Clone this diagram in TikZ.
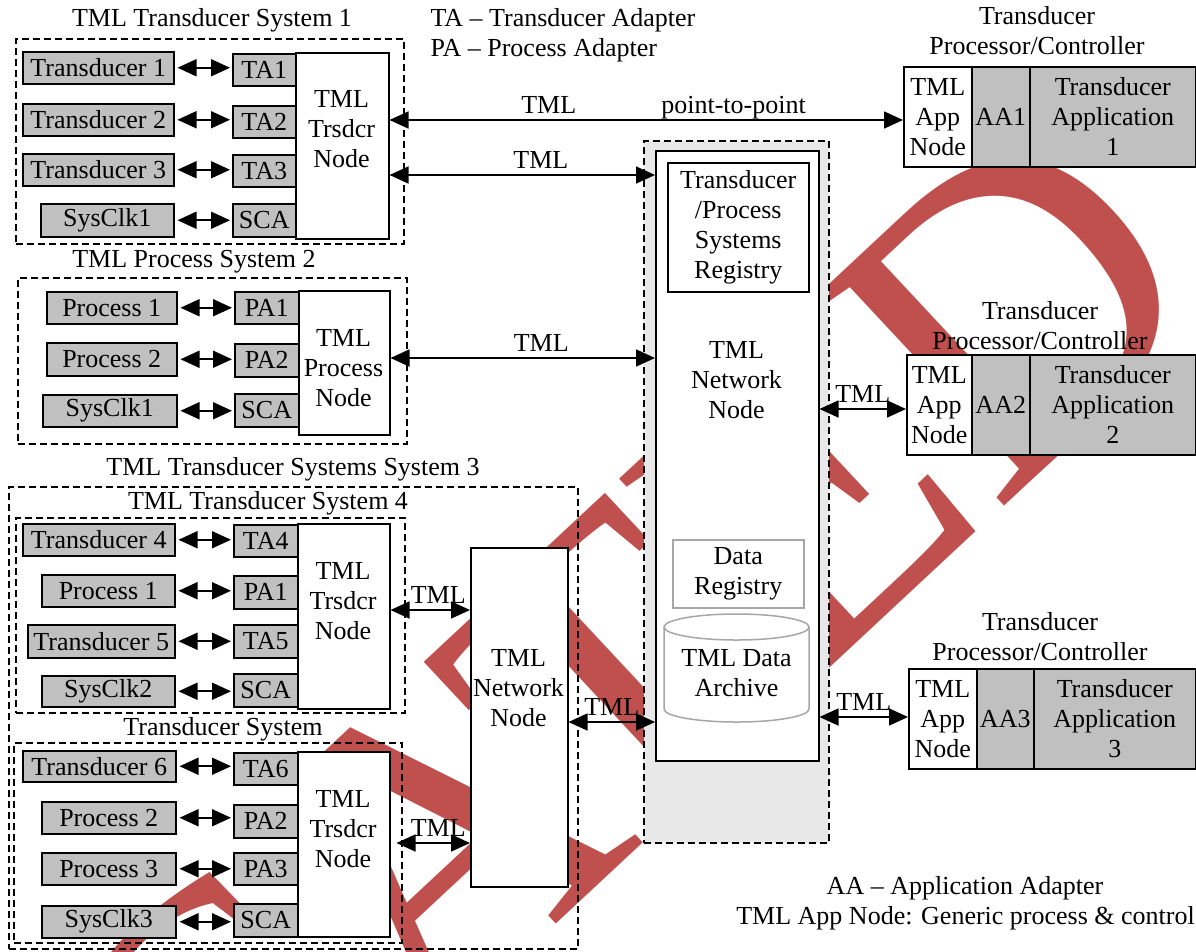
\documentclass[tikz,border=0pt]{standalone}
\usepackage{fontspec}
\setmainfont{Liberation Serif}
\usetikzlibrary{calc,positioning,arrows.meta}
\definecolor{shade}{HTML}{C0C0C0}
\definecolor{pale}{HTML}{E8E8E8}
\definecolor{rim}{HTML}{A6A6A6}
\definecolor{stamp}{HTML}{C0504D}

\begin{document}
\begin{tikzpicture}[x=1pt,y=-1pt, font=\fontsize{26pt}{30pt}\selectfont,
    dev/.style={draw=black, line width=1.5pt, fill=shade, anchor=north west, minimum height=32pt, inner sep=0pt, align=center},
    tn/.style={draw=black, line width=1.5pt, fill=white, anchor=north west, inner sep=0pt, align=center},
    grp/.style={draw=black, line width=1.5pt, dash pattern=on 7pt off 4pt, anchor=north west, inner sep=0pt},
    txt/.style={align=center, inner sep=0pt},
    lbl/.style={inner sep=0pt, text depth=0pt, above=5.5pt},
    bi/.style={{Triangle[length=19pt,width=17pt]}-{Triangle[length=19pt,width=17pt]}, line width=1.7pt, shorten <=3pt, shorten >=2pt},
    tml/.style={{Triangle[length=19pt,width=17pt]}-{Triangle[length=19pt,width=17pt]}, line width=1.7pt}]
  \useasboundingbox (0,0) rectangle (1196,951);
  \begin{scope}
    \clip (0,0) rectangle (1196,951);
    \node[text=stamp, font=\fontsize{430pt}{430pt}\selectfont, rotate=43, anchor=base east, inner sep=0pt] (wmark) at (1222,303) {DEPRECATED};
  \end{scope}

  % dashed system frames
  \node[grp, minimum width=388pt, minimum height=205pt] (sys1) at (15,38) {};
  \node[grp, minimum width=389pt, minimum height=166pt] (sys2) at (17,277) {};
  \node[grp, minimum width=569pt, minimum height=462pt] (sys3) at (8,486) {};
  \node[grp, minimum width=389pt, minimum height=195pt] (sys4) at (15,517) {};
  \node[grp, minimum width=388pt, minimum height=200pt] (sys5) at (13,742) {};
  \node[grp, fill=pale, minimum width=185pt, minimum height=702pt] (hub) at (643,140) {};
  \node (sys1t) at (212,20) {TML Transducer System 1};
  \node (sys2t) at (194,262) {TML Process System 2};
  \node (sys3t) at (293,469) {TML Transducer Systems System 3};
  \node (sys4t) at (268,503) {TML Transducer System 4};
  \node (sys5t) at (223,729) {Transducer System};

  % system 1
  \node[dev, minimum width=151pt] (t1) at (22,51) {Transducer 1};
  \node[dev, minimum width=151pt] (t2) at (22,103) {Transducer 2};
  \node[dev, minimum width=151pt] (t3) at (22,153) {Transducer 3};
  \node[dev, minimum width=133pt, minimum height=33pt] (c1) at (40,203) {SysClk1};
  \node[dev, minimum width=63pt] (ta1) at (232,53) {TA1};
  \node[dev, minimum width=63pt] (ta2) at (232,105) {TA2};
  \node[dev, minimum width=63pt] (ta3) at (232,154) {TA3};
  \node[dev, minimum width=63pt, minimum height=33pt] (sca1) at (232,203) {SCA};
  \node[tn, minimum width=93pt, minimum height=186pt] (n1) at (295,52) {};
  \node[txt] (n1t) at (341.5,129) {TML\\Trsdcr\\Node};

  % system 2
  \node[dev, minimum width=130pt] (p1) at (46,291) {Process 1};
  \node[dev, minimum width=130pt, minimum height=33pt] (p2) at (46,342) {Process 2};
  \node[dev, minimum width=134pt] (c2) at (42,394) {SysClk1};
  \node[dev, minimum width=64pt] (pa1) at (234,291) {PA1};
  \node[dev, minimum width=64pt, minimum height=33pt] (pa2) at (234,343) {PA2};
  \node[dev, minimum width=64pt, minimum height=33pt] (sca2) at (234,393) {SCA};
  \node[tn, minimum width=91pt, minimum height=144pt] (pn) at (298,290) {};
  \node[txt] (pnt) at (343.5,368) {TML\\Process\\Node};

  % system 4
  \node[dev, minimum width=152pt] (t4) at (22,523) {Transducer 4};
  \node[dev, minimum width=133pt] (p41) at (41,574) {Process 1};
  \node[dev, minimum width=147pt, minimum height=33pt] (t5) at (27,624) {Transducer 5};
  \node[dev, minimum width=133pt, minimum height=31pt] (c4) at (41,675) {SysClk2};
  \node[dev, minimum width=64pt] (ta4) at (233,524) {TA4};
  \node[dev, minimum width=64pt, minimum height=33pt] (pa41) at (233,575) {PA1};
  \node[dev, minimum width=64pt, minimum height=33pt] (ta5) at (233,624) {TA5};
  \node[dev, minimum width=64pt, minimum height=33pt] (sca4) at (233,673) {SCA};
  \node[tn, minimum width=92pt, minimum height=185pt] (n4) at (297,523) {};
  \node[txt] (n4t) at (343,601) {TML\\Trsdcr\\Node};

  % transducer system
  \node[dev, minimum width=153pt, minimum height=31pt] (t6) at (22,750) {Transducer 6};
  \node[dev, minimum width=134pt] (p52) at (41,801) {Process 2};
  \node[dev, minimum width=134pt] (p53) at (41,852) {Process 3};
  \node[dev, minimum width=134pt] (c5) at (41,905) {SysClk3};
  \node[dev, minimum width=64pt] (ta6) at (233,752) {TA6};
  \node[dev, minimum width=64pt, minimum height=33pt] (pa52) at (233,804) {PA2};
  \node[dev, minimum width=64pt] (pa53) at (233,852) {PA3};
  \node[dev, minimum width=64pt, minimum height=33pt] (sca5) at (233,903) {SCA};
  \node[tn, minimum width=92pt, minimum height=185pt] (n5) at (297,751) {};
  \node[txt] (n5t) at (343,829) {TML\\Trsdcr\\Node};

  \node[tn, minimum width=97pt, minimum height=339pt] (lnet) at (470,547) {};
  \node[txt] (lnett) at (518.5,688) {TML\\Network\\Node};

  \foreach \a/\b in {t1/ta1,t2/ta2,t3/ta3,c1/sca1,p1/pa1,p2/pa2,c2/sca2,t4/ta4,p41/pa41,t5/ta5,c4/sca4,t6/ta6,p52/pa52,p53/pa53,c5/sca5}{\draw[bi] (\a.east) -- (\a.east -| \b.west);}

  % network node with registries
  \node[tn, minimum width=163pt, minimum height=610pt] (net) at (655,150) {};
  \node[tn, minimum width=141pt, minimum height=129pt] (reg) at (667,162) {Transducer\\/Process\\Systems\\Registry};
  \node[txt] (nett) at (736.5,380) {TML\\Network\\Node};
  \node[tn, draw=rim, minimum width=131pt, minimum height=68pt] (dreg) at (672,539) {Data\\Registry};
  \draw[rim, line width=1.5pt, fill=white] (664,627) -- (664,709) arc[start angle=180, end angle=0, x radius=72.5, y radius=13] -- (809,627);
  \draw[rim, line width=1.5pt, fill=white] (736.5,627) ellipse [x radius=72.5, y radius=13];
  \node[txt] (arch) at (736.5,673) {TML Data\\Archive};

  % processor/controllers
  \node[tn, minimum width=68pt, minimum height=100pt] (app1) at (903,66) {TML\\App\\Node};
  \node[dev, minimum width=58pt, minimum height=100pt] (aa1) at (971,66) {AA1};
  \node[dev, minimum width=166pt, minimum height=100pt] (tap1) at (1029,66) {Transducer\\Application\\1};
  \node[txt] (pc1) at (1037,31) {Transducer\\Processor/Controller};
  \node[tn, minimum width=65pt, minimum height=100pt] (app2) at (906,354) {TML\\App\\Node};
  \node[dev, minimum width=58pt, minimum height=100pt] (aa2) at (971,354) {AA2};
  \node[dev, minimum width=166pt, minimum height=100pt] (tap2) at (1029,354) {Transducer\\Application\\2};
  \node[txt] (pc2) at (1040,326) {Transducer\\Processor/Controller};
  \node[tn, minimum width=68pt, minimum height=100pt] (app3) at (908,668) {TML\\App\\Node};
  \node[dev, minimum width=57pt, minimum height=100pt] (aa3) at (976,668) {AA3};
  \node[dev, minimum width=162pt, minimum height=100pt] (tap3) at (1033,668) {Transducer\\Application\\3};
  \node[txt] (pc3) at (1040,637) {Transducer\\Processor/Controller};

  % TML links
  \coordinate (y1) at (0,120);
  \coordinate (y2) at (0,175);
  \coordinate (y3) at (0,358);
  \coordinate (y4) at (0,610);
  \coordinate (y5) at (0,843);
  \coordinate (y6) at (0,722);
  \coordinate (y7) at (0,409);
  \coordinate (y8) at (0,717);
  \draw[tml] (n1.east |- y1) -- (app1.west |- y1) node[lbl, pos=0.31] (l1) {TML} node[lbl, pos=0.67] (l1b) {point-to-point};
  \draw[tml] (n1.east |- y2) -- (net.west |- y2) node[lbl, pos=0.57] (l2) {TML};
  \draw[tml] (pn.east |- y3) -- (net.west |- y3) node[lbl, pos=0.57] (l3) {TML};
  \draw[tml] (n4.east |- y4) -- (lnet.west |- y4) node[lbl, pos=0.6] (l4) {TML};
  \draw[tml, shorten <=6pt] (n5.east |- y5) -- (lnet.west |- y5) node[lbl, pos=0.6] (l5) {TML};
  \draw[tml] (lnet.east |- y6) -- (net.west |- y6) node[lbl, pos=0.5] (l6) {TML};
  \draw[tml] (net.east |- y7) -- (app2.west |- y7) node[lbl, pos=0.5] (l7) {TML};
  \draw[tml] (net.east |- y8) -- (app3.west |- y8) node[lbl, pos=0.5] (l8) {TML};

  % legends
  \node[anchor=west] (leg1) at (427,20) {TA -- Transducer Adapter};
  \node[anchor=west] (leg2) at (427,50) {PA -- Process Adapter};
  \node (leg3) at (965,888) {AA -- Application Adapter};
  \node[anchor=east, inner sep=0pt] (leg4) at (1195,918) {TML App Node: Generic process \& control};
\end{tikzpicture}
\end{document}
